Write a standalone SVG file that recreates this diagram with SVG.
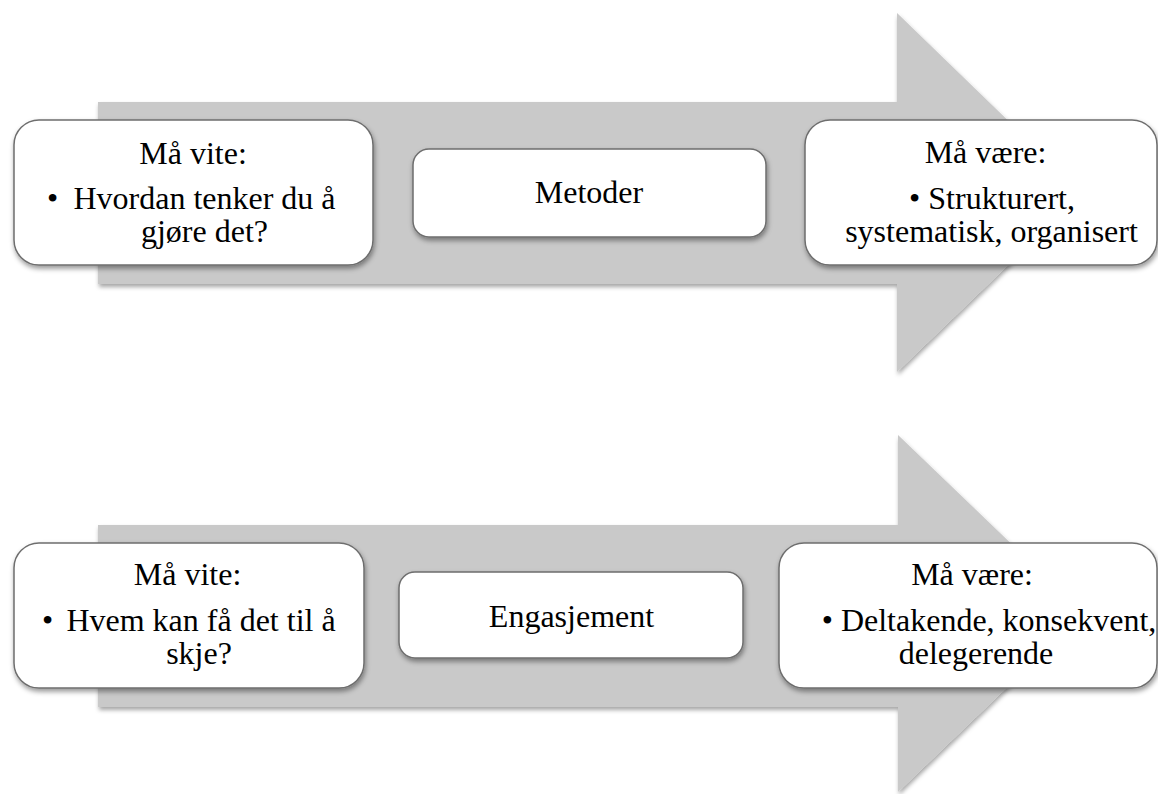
<svg xmlns="http://www.w3.org/2000/svg" width="1158" height="794" viewBox="0 0 1158 794">
<defs>
<filter id="ash" x="-5%" y="-5%" width="110%" height="115%">
<feDropShadow dx="1" dy="3" stdDeviation="2" flood-color="#000" flood-opacity="0.35"/>
</filter>
<filter id="bsh" x="-5%" y="-10%" width="110%" height="125%">
<feDropShadow dx="1" dy="3" stdDeviation="2.5" flood-color="#000" flood-opacity="0.4"/>
</filter>
</defs>
<style>
.arrow{fill:#c9c9c9;filter:url(#ash)}
.box{fill:#fff;stroke:#6e6e6e;stroke-width:1.5;filter:url(#bsh)}
text{font-family:"Liberation Serif","Times New Roman",serif;font-size:32px;fill:#000}
.c{text-anchor:middle}
</style>
<rect width="1158" height="794" fill="#fff"/>
<g id="connectors">
<path id="arrow1" class="arrow" d="M98,102 H897 V13 L1083,193 L897,372 V284 H98 Z"/>
<path id="arrow2" class="arrow" d="M98,525 H898 V435 L1084,613.5 L898,792 V707 H98 Z"/>
</g>
<g id="node-top-left">
<rect class="box" x="14" y="120" width="359" height="145" rx="25"/>
<text class="c" x="193" y="164">Må vite:</text>
<text x="47" y="209">•</text>
<text class="c" x="204.5" y="209">Hvordan tenker du å</text>
<text class="c" x="204.5" y="242">gjøre det?</text>
</g>
<g id="node-top-mid">
<rect class="box" x="413" y="149" width="353" height="88" rx="16"/>
<text class="c" x="589" y="203">Metoder</text>
</g>
<g id="node-top-right">
<rect class="box" x="805" y="120" width="352" height="145" rx="25"/>
<text class="c" x="985.5" y="163">Må være:</text>
<text class="c" x="992" y="209">• Strukturert,</text>
<text class="c" x="991.5" y="242">systematisk, organisert</text>
</g>
<g id="node-bot-left">
<rect class="box" x="14" y="543" width="350" height="145" rx="25"/>
<text class="c" x="187.5" y="585">Må vite:</text>
<text x="42" y="631">•</text>
<text class="c" x="201" y="631">Hvem kan få det til å</text>
<text class="c" x="199" y="664">skje?</text>
</g>
<g id="node-bot-mid">
<rect class="box" x="399" y="572" width="344" height="86" rx="16"/>
<text class="c" x="571.5" y="627">Engasjement</text>
</g>
<g id="node-bot-right">
<rect class="box" x="779" y="543" width="378" height="145" rx="25"/>
<text class="c" x="972" y="585">Må være:</text>
<text class="c" x="989" y="631">• Deltakende, konsekvent,</text>
<text class="c" x="976" y="664">delegerende</text>
</g>
</svg>
